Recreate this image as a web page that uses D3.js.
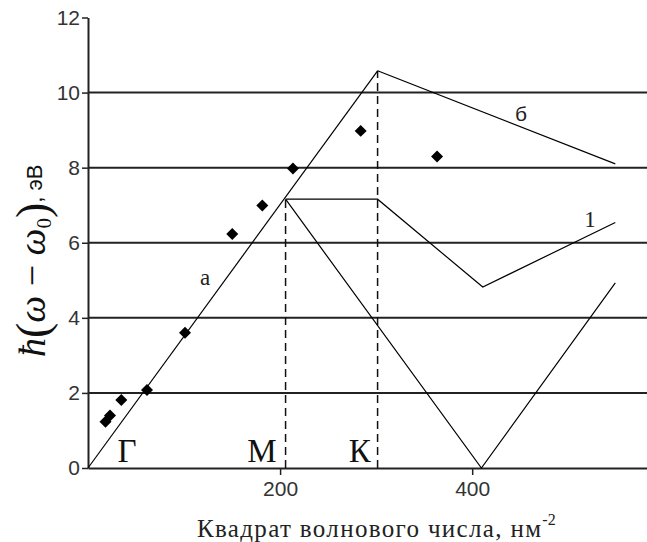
<!DOCTYPE html>
<html>
<head>
<meta charset="utf-8">
<script src="https://cdn.jsdelivr.net/npm/d3@7"></script>
<style>
  body { margin: 0; background: #fff; }
  svg { display: block; }
</style>
</head>
<body>
<svg width="647" height="542"></svg>
<script>
// tick values
var yTicks = [0, 2, 4, 6, 8, 10, 12];
var yGrid = [2, 4, 6, 8, 10];
var xTicks = [200, 400];

// curves (x: nm^-2, y: eV)
var curveA = [[0, 0], [301.5, 10.58]];
var curveB = [[301.5, 10.58], [549, 8.1]];
var curve1 = [[205.7, 7.16], [301.5, 7.16], [411, 4.82], [549, 6.54]];
var curveV = [[205.7, 7.16], [409.6, 0], [549, 4.93]];

// measured points
var pointsX = [18.2, 22.9, 34.7, 61.4, 101, 150.2, 181.5, 213.4, 283.9, 363.4];
var pointsY = [1.23, 1.40, 1.81, 2.08, 3.60, 6.23, 6.99, 7.98, 8.98, 8.30];

// symmetry points
var symNames = ["Г", "М", "К"];
var symX = [40.6, 181, 283];
var markX = [205.7, 301.5];
var markTop = [7.16, 10.58];

// curve labels
var curveNames = ["а", "б", "1"];
var curveNameX = [121.8, 450.8, 522.6];
var curveNameY = [4.87, 9.24, 6.42];

var svg = d3.select("svg");

var x = d3.scaleLinear().domain([0, 582]).range([88, 647]);
var y = d3.scaleLinear().domain([0, 12]).range([468, 17.5]);

// horizontal grid
svg.selectAll("line.grid")
    .data(yGrid)
    .enter().append("line")
    .attr("class", "grid")
    .attr("x1", x(0)).attr("x2", x(582))
    .attr("y1", d => y(d)).attr("y2", d => y(d))
    .attr("stroke", "#222")
    .attr("stroke-width", 2);

// axes
var yAxis = d3.axisLeft(y).tickValues(yTicks).tickSize(6).tickPadding(2).tickSizeOuter(0);
var gy = svg.append("g").attr("transform", "translate(" + x(0) + ",0)").call(yAxis);
gy.select(".domain").attr("stroke", "#222").attr("stroke-width", 2);
gy.selectAll(".tick line").attr("stroke", "#222").attr("stroke-width", 1.5);
gy.selectAll("text")
    .attr("font-family", "Liberation Sans, Arial, sans-serif")
    .attr("font-size", 21)
    .attr("fill", "#333");

var xAxis = d3.axisBottom(x).tickValues(xTicks).tickSize(7).tickPadding(6).tickSizeOuter(0);
var gx = svg.append("g").attr("transform", "translate(0," + y(0) + ")").call(xAxis);
gx.select(".domain").attr("stroke", "#222").attr("stroke-width", 2);
gx.selectAll(".tick line").attr("stroke", "#222").attr("stroke-width", 1.5);
gx.selectAll("text")
    .attr("font-family", "Liberation Sans, Arial, sans-serif")
    .attr("font-size", 21)
    .attr("fill", "#333");

// dashed markers for M and K
svg.selectAll("line.mark")
    .data(markX)
    .enter().append("line")
    .attr("class", "mark")
    .attr("x1", d => x(d)).attr("x2", d => x(d))
    .attr("y1", y(0)).attr("y2", (d, i) => y(markTop[i]))
    .attr("stroke", "#111")
    .attr("stroke-width", 1.5)
    .attr("stroke-dasharray", "8,5");

// curves
var line = d3.line().x(d => x(d[0])).y(d => y(d[1]));
[curveA, curveB, curve1, curveV].forEach(function(c) {
    svg.append("path")
        .attr("d", line(c))
        .attr("fill", "none")
        .attr("stroke", "#000")
        .attr("stroke-width", 1.2);
});

// diamonds
var diamond = d3.symbol().type(d3.symbolSquare).size(72);
svg.selectAll("path.pt")
    .data(pointsX)
    .enter().append("path")
    .attr("class", "pt")
    .attr("d", diamond)
    .attr("transform", (d, i) => "translate(" + x(d) + "," + y(pointsY[i]) + ") rotate(45)")
    .attr("fill", "#000");

// symmetry point labels
svg.selectAll("text.sym")
    .data(symNames)
    .enter().append("text")
    .attr("class", "sym")
    .attr("x", (d, i) => x(symX[i]))
    .attr("y", y(0.16))
    .attr("text-anchor", "middle")
    .attr("font-family", "Liberation Serif, Times New Roman, serif")
    .attr("font-size", 33)
    .attr("fill", "#111")
    .text(d => d);

// curve labels
svg.selectAll("text.cname")
    .data(curveNames)
    .enter().append("text")
    .attr("class", "cname")
    .attr("x", (d, i) => x(curveNameX[i]))
    .attr("y", (d, i) => y(curveNameY[i]))
    .attr("text-anchor", "middle")
    .attr("font-family", (d, i) => i == 1 ? "Liberation Sans, Arial, sans-serif" : "Liberation Serif, Times New Roman, serif")
    .attr("font-size", (d, i) => i == 1 ? 21 : 23)
    .attr("fill", "#222")
    .text(d => d);

// x label
var xl = svg.append("text")
    .attr("x", 197)
    .attr("y", 537)
    .attr("font-family", "Liberation Serif, Times New Roman, serif")
    .attr("font-size", 25)
    .attr("fill", "#222");
xl.append("tspan").attr("textLength", 344).attr("lengthAdjust", "spacing").text("Квадрат волнового числа, нм");
xl.append("tspan").attr("font-size", 16).attr("dy", -12).text("-2");

// y label
var yl = svg.append("text")
    .attr("transform", "translate(45,357) rotate(-90)")
    .attr("font-family", "Liberation Serif, Times New Roman, serif")
    .attr("font-size", 38)
    .attr("fill", "#111");
yl.append("tspan").attr("font-style", "italic").text("ħ");
yl.append("tspan").attr("font-size", 46).attr("dy", 3).text("(");
yl.append("tspan").attr("font-style", "italic").attr("dy", -3).text("ω");
yl.append("tspan").text(" − ");
yl.append("tspan").attr("font-style", "italic").text("ω");
yl.append("tspan").attr("font-size", 21).attr("dy", 6).text("0");
yl.append("tspan").attr("font-size", 46).attr("dy", -3).text(")");
yl.append("tspan").attr("font-size", 22).attr("dy", -6)
    .attr("font-family", "Liberation Sans, Arial, sans-serif").text(", эВ");
</script>
</body>
</html>
